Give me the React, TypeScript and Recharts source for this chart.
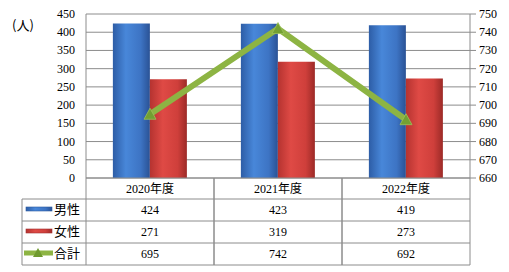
import { Bar, ComposedChart, Line, XAxis, YAxis, CartesianGrid } from "recharts"

const categories = ["2020年度", "2021年度", "2022年度"]
const maleValues = [424, 423, 419]
const femaleValues = [271, 319, 273]
const totalValues = [695, 742, 692]
const leftTicks = [0, 50, 100, 150, 200, 250, 300, 350, 400, 450]
const rightTicks = [660, 670, 680, 690, 700, 710, 720, 730, 740, 750]

const data = categories.map((name, i) => ({
  name,
  male: maleValues[i],
  female: femaleValues[i],
  total: totalValues[i],
}))

const FONT = "Liberation Serif, Noto Sans CJK JP, serif"
const GOTHIC = "Noto Sans CJK JP, sans-serif"
const GRID = "#8c8c8c"
const ROWS = [0, 21, 43, 65, 87]
const LEGEND_LEFT = 22

const TableTick = (props: any) => {
  const { x, y, payload, index } = props
  const half = payload.offset || 64
  const left = x - half
  const right = x + half
  const row = (i: number) => y + (ROWS[i] + ROWS[i + 1]) / 2 + 4
  const values = [maleValues[index], femaleValues[index], totalValues[index]]
  return (
    <g style={{ fontFamily: FONT, fontSize: 12 }} fill="#000">
      {ROWS.slice(1).map((r) => (
        <line key={r} x1={left} x2={right} y1={y + r} y2={y + r} stroke={GRID} />
      ))}
      <line x1={left} x2={left} y1={y} y2={y + ROWS[4]} stroke={GRID} />
      <line x1={right} x2={right} y1={y} y2={y + ROWS[4]} stroke={GRID} />
      <text x={x} y={row(0)} textAnchor="middle">{payload.value}</text>
      {values.map((v, i) => (
        <text key={i} x={x} y={row(i + 1)} textAnchor="middle">{v}</text>
      ))}
      {index === 0 && (
        <g style={{ fontFamily: GOTHIC, fontSize: 13 }}>
          {ROWS.slice(1).map((r) => (
            <line key={r} x1={LEGEND_LEFT} x2={left} y1={y + r} y2={y + r} stroke={GRID} />
          ))}
          <line x1={LEGEND_LEFT} x2={LEGEND_LEFT} y1={y + ROWS[1]} y2={y + ROWS[4]} stroke={GRID} />
          <rect x={26} y={row(1) - 7} width={26} height={4} fill="url(#maleGrad)" stroke="#2c5aa0" strokeWidth={0.6} />
          <text x={54} y={row(1)}>男性</text>
          <rect x={26} y={row(2) - 7} width={26} height={4} fill="url(#femaleGrad)" stroke="#a03030" strokeWidth={0.6} />
          <text x={54} y={row(2)}>女性</text>
          <line x1={24} x2={53} y1={row(3) - 5} y2={row(3) - 5} stroke="#8db443" strokeWidth={5} />
          <path d={`M${38 - 5},${row(3) - 1} L38,${row(3) - 10} L${38 + 5},${row(3) - 1} Z`} fill="#6f9a2e" />
          <text x={54} y={row(3)}>合計</text>
        </g>
      )}
    </g>
  )
}

// axis number labels in serif, like the original
const NumTick = (props: any) => {
  const { x, y, payload, textAnchor } = props
  return (
    <text x={x} y={y + 4} textAnchor={textAnchor} style={{ fontFamily: FONT, fontSize: 12 }} fill="#000">
      {payload.value}
    </text>
  )
}

const TriangleDot = (props: any) => {
  const { cx, cy } = props
  if (cx == null || cy == null) return null
  return <path d={`M${cx - 6},${cy + 5} L${cx},${cy - 6} L${cx + 6},${cy + 5} Z`} fill="#73a032" stroke="#9cc25a" strokeWidth={0.8} />
}

export default function App() {
  return (
    <div style={{ position: "absolute", left: 0, top: 0, width: 509, height: 272, background: "#fff", fontFamily: FONT }}>
      <div style={{ position: "absolute", left: 12, top: 15, fontFamily: GOTHIC, fontSize: 13 }}>(人)</div>
      <ComposedChart
        width={509}
        height={272}
        data={data}
        margin={{ top: 14, right: 0, bottom: 0, left: 0 }}
        barCategoryGap="21%"
        barGap={0}
      >
        <defs>
          <linearGradient id="maleGrad" x1="0" y1="0" x2="1" y2="0">
            <stop offset="0%" stopColor="#2d5da6" />
            <stop offset="35%" stopColor="#4887d9" />
            <stop offset="75%" stopColor="#3d74c4" />
            <stop offset="100%" stopColor="#2a5295" />
          </linearGradient>
          <linearGradient id="femaleGrad" x1="0" y1="0" x2="1" y2="0">
            <stop offset="0%" stopColor="#b53330" />
            <stop offset="35%" stopColor="#df4a45" />
            <stop offset="75%" stopColor="#cf3f3b" />
            <stop offset="100%" stopColor="#9c2a27" />
          </linearGradient>
        </defs>
        <CartesianGrid yAxisId="left" vertical={false} stroke={GRID} />
        <XAxis
          dataKey="name"
          height={94}
          stroke={GRID}
          tickLine={false}
          tickSize={0}
          tickMargin={0}
          tick={<TableTick />}
          interval={0}
        />
        <YAxis
          yAxisId="left"
          width={86}
          domain={[0, 450]}
          ticks={leftTicks}
          interval={0}
          stroke={GRID}
          tickLine={false}
          tickSize={6}
          tickMargin={5}
          tick={<NumTick />}
        />
        <YAxis
          yAxisId="right"
          orientation="right"
          width={39}
          domain={[660, 750]}
          ticks={rightTicks}
          interval={0}
          stroke={GRID}
          tickSize={6}
          tickMargin={3}
          tick={<NumTick />}
        />
        <Bar yAxisId="left" dataKey="male" fill="url(#maleGrad)" isAnimationActive={false} />
        <Bar yAxisId="left" dataKey="female" fill="url(#femaleGrad)" isAnimationActive={false} />
        <Line
          yAxisId="right"
          dataKey="total"
          stroke="#8db443"
          strokeWidth={6}
          dot={<TriangleDot />}
          activeDot={false}
          isAnimationActive={false}
        />
      </ComposedChart>
    </div>
  )
}
